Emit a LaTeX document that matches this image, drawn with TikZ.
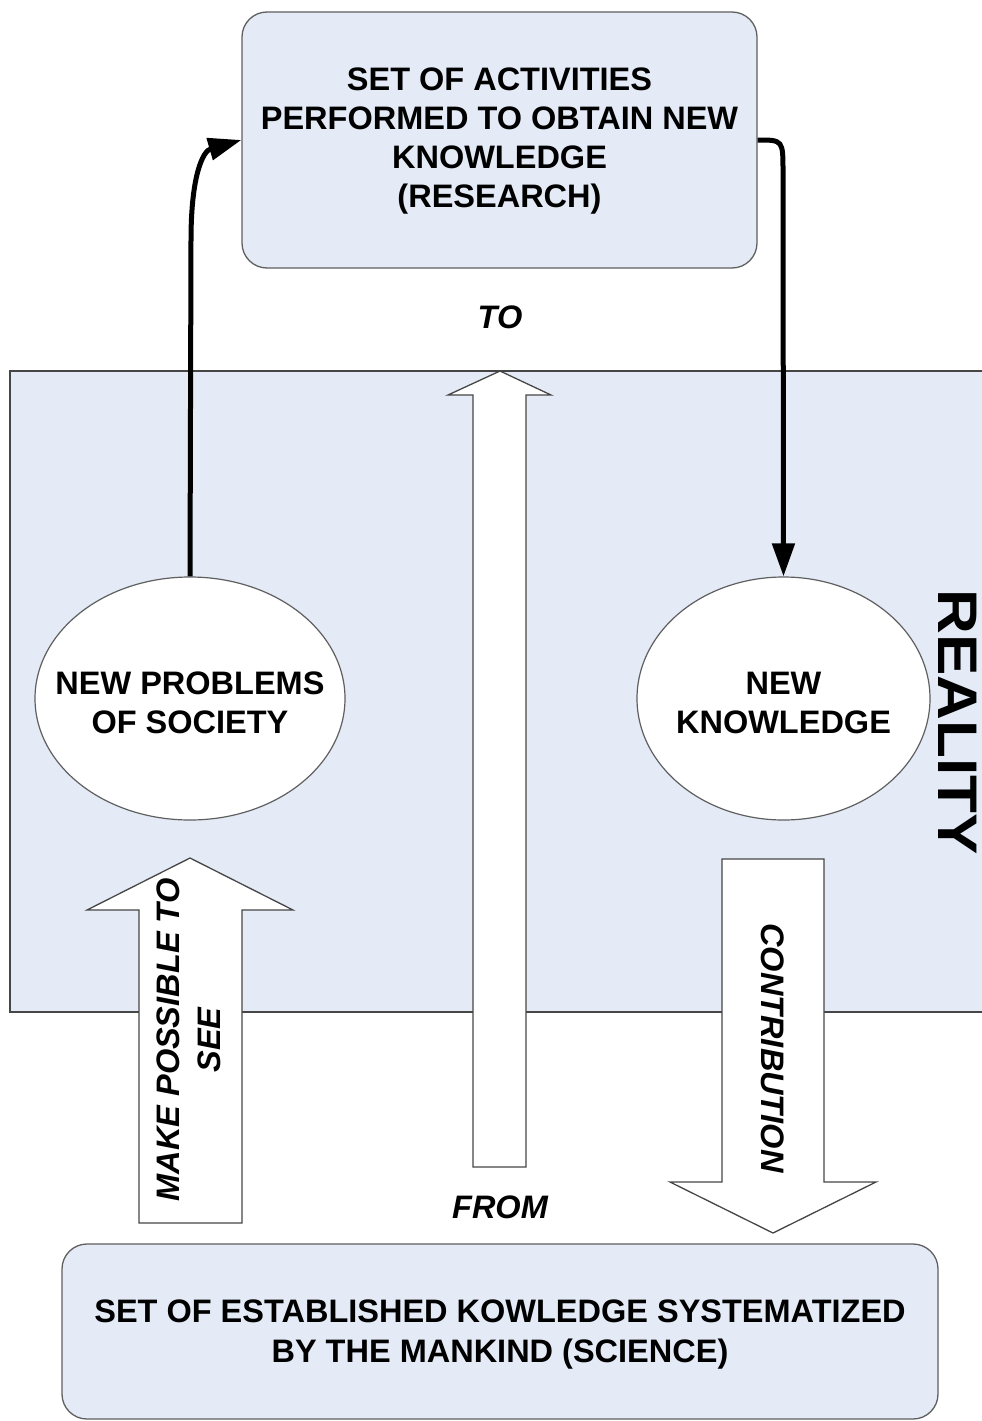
\documentclass[tikz,border=0pt]{standalone}
\usepackage{fontspec}
\usepackage{graphicx}
\setmainfont{Liberation Sans}
\usetikzlibrary{shapes.geometric,arrows.meta}
\definecolor{panel}{RGB}{228,235,247}
\definecolor{edge}{RGB}{95,95,95}
\definecolor{frame}{RGB}{70,70,70}
\begin{document}
\begin{tikzpicture}[x=1pt,y=-1pt,
  lbl/.style={font=\fontsize{32.5}{39.3}\selectfont\bfseries, align=center, inner sep=0pt},
  ilbl/.style={font=\fontsize{32.5}{41}\selectfont\bfseries\itshape, align=center, inner sep=0pt},
  box/.style={draw=edge, line width=1.3pt, fill=panel, rounded corners=25pt, inner sep=0pt},
  bubble/.style={ellipse, draw=edge, line width=1.2pt, fill=white, inner sep=0pt},
  blockarrow/.style={draw=frame, line width=1.3pt, fill=white, line join=miter},
  flow/.style={line width=5pt, -{Triangle[length=33pt,width=22pt]}}]

\useasboundingbox (0,0) rectangle (982,1421);

% the "reality" band, open on its right side
\fill[panel] (10,371) rectangle (982,1012);
\draw[frame, line width=2pt] (982,371) -| (10,1012) -- (982,1012);

% hollow block arrows
\draw[blockarrow] (473,1167) -- (473,395) -- (448,395) -- (500,371) -- (551,395)
  -- (526,395) -- (526,1167) -- cycle;
\draw[blockarrow] (139,1223) -- (139,910) -- (87,910) -- (190,858) -- (293,910)
  -- (242,910) -- (242,1223) -- cycle;
\draw[blockarrow] (722,859) -- (722,1182) -- (670,1182) -- (773,1233) -- (876,1182)
  -- (824,1182) -- (824,859) -- cycle;

% research box
\node[box, minimum width=515pt, minimum height=256pt] (research) at (499.5,140) {};
\node[lbl] (researchtext) at (499.5,141)
  {SET OF ACTIVITIES\\PERFORMED TO OBTAIN NEW\\KNOWLEDGE\\(RESEARCH)};

% science box
\node[box, minimum width=876pt, minimum height=175pt] (science) at (500,1331.5) {};
\node[lbl, font=\fontsize{32.5}{40}\selectfont\bfseries] (sciencetext) at (500,1335)
  {SET OF ESTABLISHED KOWLEDGE SYSTEMATIZED\\BY THE MANKIND (SCIENCE)};

% ellipses
\node[bubble, minimum width=310pt, minimum height=243pt] (problems) at (190,698.5) {};
\node[lbl] (problemstext) at (190,703) {NEW PROBLEMS\\OF SOCIETY};
\node[bubble, minimum width=293pt, minimum height=243pt] (newknow) at (783.5,698.5) {};
\node[lbl] (newknowtext) at (783.5,703) {NEW\\KNOWLEDGE};

% curved flow arrows
\draw[flow] (problems.north) -- (191,240) .. controls (191,175) and (203,151) .. (research.west);
\draw[flow] (research.east) .. controls (783,140) .. (783,172) -- (newknow.north);

% labels
\node[ilbl] (to) at (500,317) {TO};
\node[ilbl] (from) at (500,1207) {FROM};
\node[ilbl, rotate=90] (see) at (189,1040) {MAKE POSSIBLE TO\\SEE};
\node[ilbl, rotate=-90] (contrib) at (773,1048) {CONTRIBUTION};
\node[font=\fontsize{62}{62}\selectfont\bfseries, rotate=-90, inner sep=0pt] (reality)
  at (958,722) {\scalebox{1}[0.9]{REALITY}};
\end{tikzpicture}
\end{document}
